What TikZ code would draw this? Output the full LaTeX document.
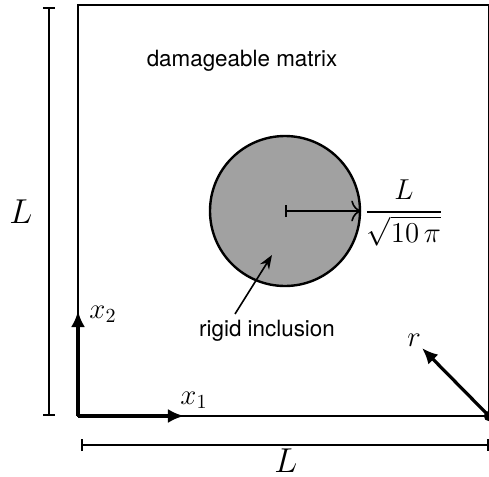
\documentclass[tikz,border=0pt]{standalone}
\usepackage[no-math]{fontspec}
\setmainfont{TeX Gyre Heros}
\usepackage{amsmath}
\usetikzlibrary{positioning,arrows.meta}

\begin{document}
\begin{tikzpicture}[x=0.5pt, y=-0.5pt,
      frame/.style={line width=1.3pt},
      dim/.style={line width=1pt, {Bar[width=6pt]}-{Bar[width=6pt]}},
      axis/.style={line width=2pt, -{Latex[length=8pt,width=7pt]}},
      lbl/.style={font=\fontsize{11.2}{13}\selectfont, inner sep=0pt},
      sym/.style={font=\fontsize{14.5}{17}\selectfont, inner sep=0pt},
      big/.style={font=\fontsize{16}{19}\selectfont, inner sep=0pt},
      >={Stealth[length=7pt]}]
    \useasboundingbox (0,0) rectangle (489,477);
    % corners of the cell
    \coordinate (O) at (78,416);
    \coordinate (C) at (489,5);
    \coordinate (R) at (489,416);
    \draw[frame] (O) rectangle (C);
    % dimensions
    \coordinate (dimVa) at (49,416);
    \coordinate (dimVb) at (49,7);
    \coordinate (dimHa) at (81,445);
    \coordinate (dimHb) at (489,445);
    \draw[dim] (dimVa) -- (dimVb);
    \draw[dim] (dimHa) -- (dimHb);
    \node[big] (Lv) at (21,212) {$L$};
    \node[big] (Lh) at (286,461) {$L$};
    % inclusion
    \node[circle, draw, line width=1.2pt, fill=black!37, minimum size=75pt,
          inner sep=0pt] (incl) at (285,211) {};
    \draw[line width=0.8pt, {Bar[width=6pt]}-{To[length=5pt]}] (incl.center) -- (incl.east);
    \node[sym] (rad) at (404,213) {$\dfrac{L}{\sqrt{10\,\pi}}$};
    \node[lbl] (matrix) at (242,61) {damageable matrix};
    \node[lbl] (inclabel) at (267,331) {rigid inclusion};
    \draw[line width=0.8pt, ->] ([xshift=-16pt,yshift=3pt]inclabel.north)
      -- ([shift={(-13,44)}]incl.center);
    % axes
    \coordinate (X1) at (184,416);
    \coordinate (X2) at (78,311);
    \draw[axis] (O) -- (X1);
    \draw[axis] (O) -- (X2);
    \node[sym] (x1) at (194,400) {$x_1$};
    \node[sym] (x2) at (103,314) {$x_2$};
    % radial direction
    \coordinate (Rtip) at (422,348);
    \fill (R) circle (2.6pt);
    \draw[line width=1.6pt, -{Latex[length=8pt,width=7pt]}] (R) -- (Rtip);
    \node[sym] (r) at (414,340) {$r$};
\end{tikzpicture}
\end{document}
